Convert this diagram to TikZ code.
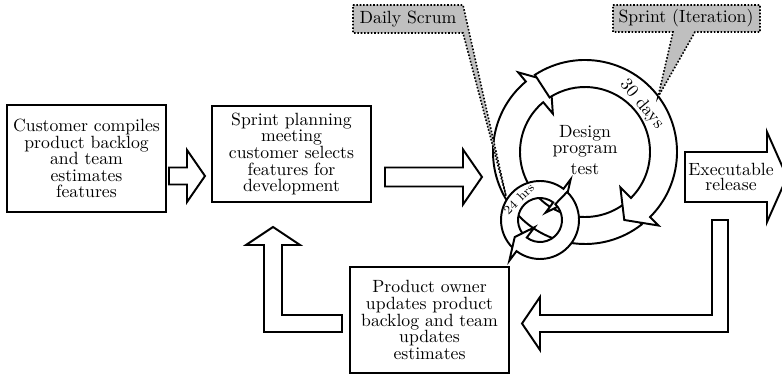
\documentclass[tikz,border=0pt]{standalone}
\usetikzlibrary{calc}
\newcommand\boxfont{\fontsize{10pt}{9.4pt}\selectfont}
\newcommand\ringarrow[9]{%
  \filldraw[ln,fill=white] ($(#1)+(#7:#3)$) arc[start angle=#7,end angle=#8,radius=#3]
    -- ($(#1)+(#8:#5)$) -- ($(#1)+(#9:#6)$) -- ($(#1)+(#8:#4)$) -- ($(#1)+(#8:#2)$)
    arc[start angle=#8,end angle=#7,radius=#2] -- cycle;}
\begin{document}
\begin{tikzpicture}[x=0.565pt,y=-0.565pt,
  ln/.style={line width=1.1pt, line join=miter, miter limit=20},
  blockarrow/.style={ln, draw=black, fill=white},
  stepbox/.style={ln, draw=black, fill=white, align=center, font=\boxfont, inner sep=0pt, minimum width=89.8pt},
  callout/.style={draw=black, fill=black!25, line width=0.9pt, densely dotted},
  lbl/.style={font=\fontsize{10pt}{12pt}\selectfont, inner sep=0pt}]
\useasboundingbox (0,0) rectangle (782,375);

% process boxes
\node[stepbox, minimum height=60.5pt] (cust) at (86.5,158.5) {Customer compiles\\product backlog\\and team\\estimates\\features};
\node[stepbox, minimum height=54.2pt] (plan) at (291.5,154) {Sprint planning\\meeting\\customer selects\\features for\\development};
\node[stepbox, minimum height=59.9pt] (owner) at (429.5,320) {Product owner\\updates product\\backlog and team\\updates\\estimates};

% block arrows
\draw[blockarrow] (169,167.5) -- (187,167.5) -- (187,150) -- (205,176) -- (187,202) -- (187,184.5) -- (169,184.5) -- cycle;
\draw[blockarrow] (385,167.5) -- (463,167.5) -- (463,149.5) -- (482,177) -- (463,204.5) -- (463,186.5) -- (385,186.5) -- cycle;
\draw[blockarrow] (685,152) -- (767,152) -- (767,132) -- (787,177) -- (767,222) -- (767,202) -- (685,202) -- cycle;
\node[lbl, align=center, font=\fontsize{10pt}{8.5pt}\selectfont] (exec) at (731,176.5) {Executable\\release};
\draw[blockarrow] (712,220) -- (728,220) -- (728,332) -- (540,332) -- (540,350) -- (522,323.5) -- (540,297) -- (540,315) -- (712,315) -- cycle;
\draw[blockarrow] (342,315) -- (282,315) -- (282,245) -- (300,245) -- (273,227) -- (246,245) -- (264,245) -- (264,332) -- (342,332) -- cycle;

% big sprint ring
\coordinate (C) at (585,152);
\ringarrow{C}{65}{92}{50}{104}{78.5}{52}{230}{244}
\ringarrow{C}{65}{92}{50}{104}{78.5}{-123}{45}{60}
\node[lbl, align=center] (work) at (585,150) {Design\\[-3pt]program\\test};
\node[lbl, rotate=-50] (days) at ($(C)+(-40:74)$) {30 days};

% small daily ring
\coordinate (c) at (540,220);
\ringarrow{c}{22}{39}{9}{51}{30.5}{-226}{-53}{-34}
\ringarrow{c}{22}{39}{9}{51}{30.5}{-46}{127}{146}
\node[font=\fontsize{7pt}{8pt}\selectfont, inner sep=0pt, rotate=45] (hrs) at ($(c)+(-135:30)$) {24 hrs};

% callouts
\filldraw[callout] (353,5) -- (463,5) -- (506,196) -- (463,33) -- (353,33) -- cycle;
\node[lbl] (daily) at (408,19) {Daily Scrum};
\filldraw[callout] (613,5) -- (760,5) -- (760,32) -- (695,32) -- (658,97) -- (673,32) -- (613,32) -- cycle;
\node[lbl] (sprint) at (686,18.5) {Sprint (Iteration)};
\end{tikzpicture}
\end{document}
